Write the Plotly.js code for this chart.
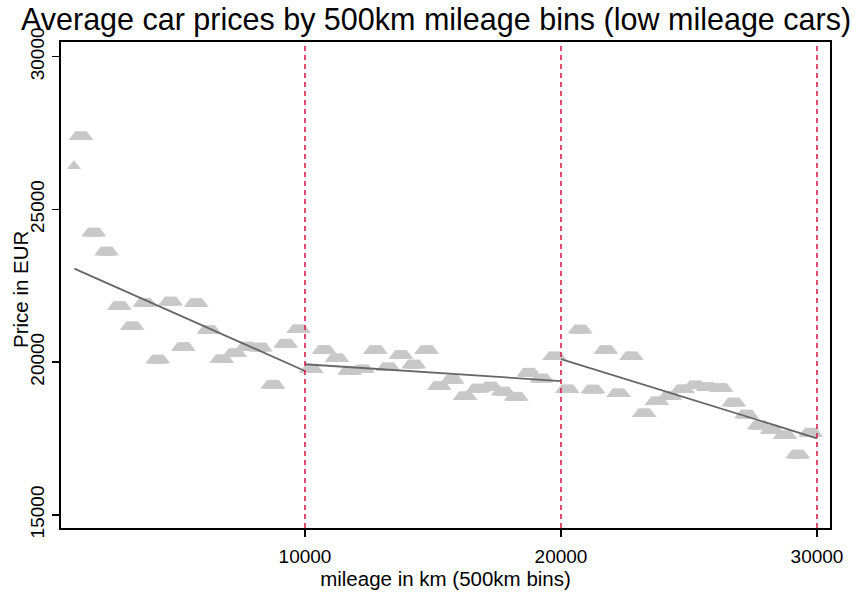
<!DOCTYPE html>
<html><head><meta charset="utf-8">
<script src="https://cdn.plot.ly/plotly-3.0.1.min.js"></script>
<style>html,body{margin:0;padding:0;background:#fff}#chart{width:859px;height:596px}</style>
</head><body><div id="chart"></div>
<script>
// 500km bins (bin centres) and average price in EUR
const binX = [1250, 1750, 2250, 2750, 3250, 3750, 4250, 4750, 5250, 5750, 6250, 6750, 7250, 7750,
  8250, 8750, 9250, 9750, 10250, 10750, 11250, 11750, 12250, 12750, 13250, 13750, 14250, 14750,
  15250, 15750, 16250, 16750, 17250, 17750, 18250, 18750, 19250, 19750, 20250, 20750, 21250,
  21750, 22250, 22750, 23250, 23750, 24250, 24750, 25250, 25750, 26250, 26750, 27250, 27750,
  28250, 28750, 29250, 29750];
const binY = [27370, 24220, 23600, 21810, 21150, 21910, 20060, 21960, 20470, 21910, 21030, 20070, 20275, 20490,
  20450, 19230, 20580, 21050, 19740, 20370, 20100, 19690, 19740, 20370, 19810, 20210, 19900, 20370,
  19190, 19400, 18860, 19110, 19175, 19010, 18840, 19630, 19440, 20170, 19090, 21040, 19080,
  20370, 18955, 20170, 18300, 18690, 18870, 19090, 19220, 19160, 19130, 18650, 18260, 17900,
  17750, 17580, 16950, 17660];
// the lowest-mileage bin (only a few cars near 1000 km)
const firstBinX = [975];
const firstBinY = [26420];
// linear fits per 10000 km segment
const fit1X = [990, 10000],   fit1Y = [23060, 19710];
const fit2X = [10000, 20000], fit2Y = [19930, 19380];
const fit3X = [20000, 30000], fit3Y = [20100, 17505];
const cutoffs = [10000, 20000, 30000];
const xTicks = [10000, 20000, 30000];
const yTicks = [15000, 20000, 25000, 30000];

const xRange = [469, 30508];
const yRange = [14568, 30481];
const marginL = 61, marginR = 29, marginT = 42, marginB = 68;
const plotW = 859 - marginL - marginR;
const unitsPerPx = (xRange[1] - xRange[0]) / plotW;
// each bin marker is a triangle swept across the 500 km bin width
const sweepPx = [-5.5, -4.5, -3.5, -2.5, -1.5, -0.5, 0.5, 1.5, 2.5, 3.5, 4.5, 5.5];

const FONT = 'Liberation Sans, Arial, Helvetica, sans-serif';
const markerColor = '#c8c8c8';
const markerSize = 12;

const traces = [];
const layout = {
  width: 859, height: 596,
  margin: {l: marginL, r: marginR, t: marginT, b: marginB, pad: 0},
  paper_bgcolor: '#fff', plot_bgcolor: '#fff',
  showlegend: false,
  font: {family: FONT, color: '#000'},
  title: {text: 'Average car prices by 500km mileage bins (low mileage cars)',
    font: {family: FONT, size: 30.5, color: '#000'},
    xref: 'container', x: 0.5076, xanchor: 'center',
    yref: 'container', y: 0.968, yanchor: 'middle'},
  xaxis: {range: xRange, tickvals: xTicks, ticktext: xTicks.map(String),
    showgrid: false, zeroline: false, showline: true, linecolor: '#000', linewidth: 2, mirror: true,
    ticks: 'outside', ticklen: 7, tickwidth: 1.5, tickcolor: '#000', ticklabelstandoff: 3,
    tickfont: {family: FONT, size: 19, color: '#000'},
    title: {text: 'mileage in km (500km bins)', font: {family: FONT, size: 20.5, color: '#000'}, standoff: 5},
    automargin: false},
  yaxis: {range: yRange, tickvals: yTicks, ticktext: yTicks.map(String), tickangle: -90,
    showgrid: false, zeroline: false, showline: true, linecolor: '#000', linewidth: 2, mirror: true,
    ticks: 'outside', ticklen: 7, tickwidth: 1.5, tickcolor: '#000',
    tickfont: {family: FONT, size: 19, color: '#000'},
    automargin: false},
  annotations: [{text: 'Price in EUR', textangle: -90, showarrow: false,
    xref: 'paper', yref: 'paper', x: (20 - marginL) / plotW, y: 0.4897,
    xanchor: 'center', yanchor: 'middle', font: {family: FONT, size: 20.5, color: '#000'}}],
  shapes: cutoffs.map(c => ({type: 'line', xref: 'x', yref: 'paper', x0: c, x1: c, y0: 0, y1: 1,
    line: {color: '#d8244a', width: 1.6, dash: '5px,4px'}, layer: 'above'}))
};

let axIdx = 2;
sweepPx.forEach(d => {
  const shift = d * unitsPerPx;
  layout['xaxis' + axIdx] = {overlaying: 'x', visible: false, range: [xRange[0] - shift, xRange[1] - shift],
    showgrid: false, zeroline: false};
  traces.push({x: binX, y: binY, xaxis: 'x' + axIdx, yaxis: 'y', type: 'scatter', mode: 'markers',
    marker: {symbol: 'triangle-up', size: markerSize, color: markerColor, line: {width: 0}}});
  axIdx++;
});
// top layer: same scale as the main axis, holds the single low bin and the fit lines
layout['xaxis' + axIdx] = {overlaying: 'x', visible: false, range: xRange.slice(), showgrid: false, zeroline: false};
const topAx = 'x' + axIdx;
traces.push({x: firstBinX, y: firstBinY, xaxis: topAx, type: 'scatter', mode: 'markers',
  marker: {symbol: 'triangle-up', size: markerSize, color: markerColor, line: {width: 0}}});
[[fit1X, fit1Y], [fit2X, fit2Y], [fit3X, fit3Y]].forEach(([fx, fy]) => {
  traces.push({x: fx, y: fy, xaxis: topAx, type: 'scatter', mode: 'lines', line: {color: '#666666', width: 1.8}});
});

Plotly.newPlot('chart', traces, layout, {displayModeBar: false, staticPlot: true});
</script>
</body></html>
